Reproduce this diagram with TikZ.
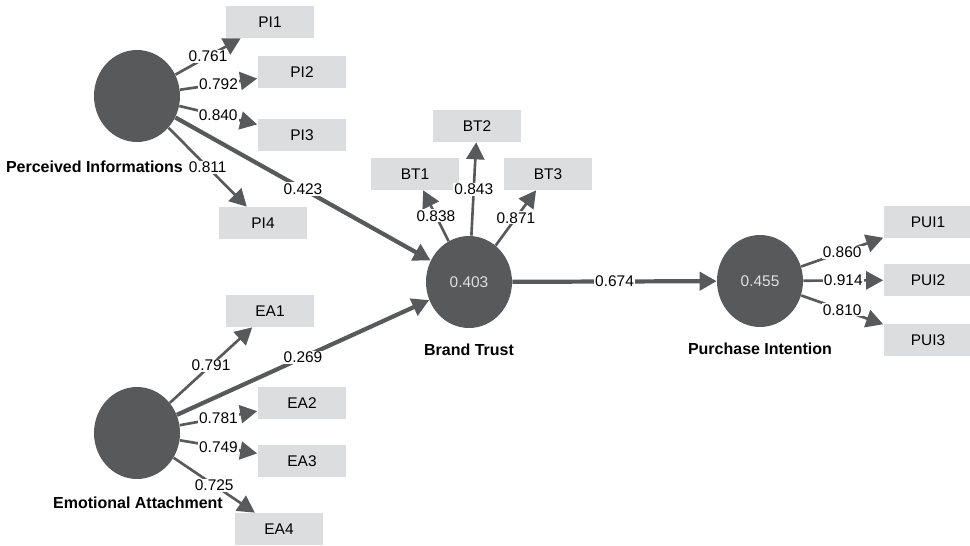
\documentclass[tikz,border=0pt]{standalone}
\usepackage{fontspec}
\setmainfont{Liberation Sans}
\usetikzlibrary{arrows.meta, positioning, shapes.geometric}
\definecolor{lvgray}{HTML}{58595B}
\definecolor{mvgray}{HTML}{DCDDDE}
\tikzset{
	latent/.style={ellipse, fill=lvgray, minimum width=1.72cm, minimum height=1.84cm, inner sep=0pt, text=white!88!black, font=\fontsize{8.8}{10}\selectfont},
	item/.style={rectangle, fill=mvgray, minimum width=1.78cm, minimum height=0.64cm, inner sep=0pt, font=\fontsize{8.8}{10}\selectfont},
	line/.style={draw=lvgray, -{Triangle[length=3.4mm, width=3.6mm]}}
}

\begin{document}
\begin{tikzpicture}[
	x=0.02cm, y=-0.02cm,
	% Styles
	cname/.style = {font=\bfseries\fontsize{9.1}{10}\selectfont, inner sep=1pt},
	coef/.style = {midway, fill=white, inner sep=0.6pt, font=\fontsize{8.8}{10}\selectfont},
	loading/.style = {line, line width=1.5pt},
	path arrow/.style = {line, line width=2.4pt}
	]
	\useasboundingbox (0,0) rectangle (970,546);
	
	% Latent variables
	\node[latent] (pi) at (137,96) {};
	\node[latent] (ea) at (137,433) {};
	\node[latent] (bt) at (469,282) {0.403};
	\node[latent] (pui) at (760,281) {0.455};
	
	% Construct names
	\node[cname, anchor=east] (pilab) at (185,167) {Perceived Informations};
	\node[cname] (ealab) at (138,503) {Emotional Attachment};
	\node[cname] (btlab) at (469,350) {Brand Trust};
	\node[cname] (puilab) at (760,349) {Purchase Intention};
	
	% Indicators: Perceived Informations
	\node[item] (pi1) at (270,22) {PI1};
	\node[item] (pi2) at (302,72) {PI2};
	\node[item] (pi3) at (302,135) {PI3};
	\node[item] (pi4) at (263,223) {PI4};
	
	% Indicators: Emotional Attachment
	\node[item] (ea1) at (270,311) {EA1};
	\node[item] (ea2) at (302,403) {EA2};
	\node[item] (ea3) at (302,461) {EA3};
	\node[item] (ea4) at (279,529) {EA4};
	
	% Indicators: Brand Trust
	\node[item] (bt1) at (415,174) {BT1};
	\node[item] (bt2) at (477,126) {BT2};
	\node[item] (bt3) at (548,174) {BT3};
	
	% Indicators: Purchase Intention
	\node[item] (pui1) at (928,222) {PUI1};
	\node[item] (pui2) at (928,280) {PUI2};
	\node[item] (pui3) at (928,340) {PUI3};
	
	% Outer loadings
	\draw[loading] (pi) -- node[coef] {0.761} (pi1);
	\draw[loading] (pi) -- node[coef] {0.792} (pi2);
	\draw[loading] (pi) -- node[coef] {0.840} (pi3);
	\draw[loading] (pi) -- node[coef] {0.811} (pi4);
	
	\draw[loading] (ea) -- node[coef] {0.791} (ea1);
	\draw[loading] (ea) -- node[coef] {0.781} (ea2);
	\draw[loading] (ea) -- node[coef] {0.749} (ea3);
	\draw[loading] (ea) -- node[coef] {0.725} (ea4);
	
	\draw[loading] (bt) -- node[coef] {0.838} (bt1);
	\draw[loading] (bt) -- node[coef] {0.843} (bt2);
	\draw[loading] (bt) -- node[coef] {0.871} (bt3);
	
	\draw[loading] (pui) -- node[coef] {0.860} (pui1);
	\draw[loading] (pui) -- node[coef] {0.914} (pui2);
	\draw[loading] (pui) -- node[coef] {0.810} (pui3);
	
	% Path coefficients
	\draw[path arrow] (pi) -- node[coef] {0.423} (bt);
	\draw[path arrow] (ea) -- node[coef] {0.269} (bt);
	\draw[path arrow] (bt) -- node[coef] {0.674} (pui);
	
\end{tikzpicture}
\end{document}
